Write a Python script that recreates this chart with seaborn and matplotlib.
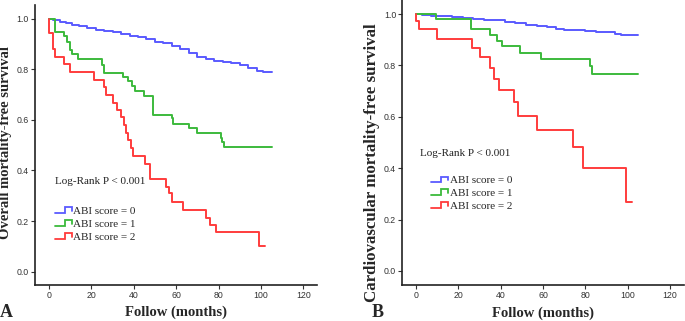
import numpy as np
import pandas as pd
import matplotlib
matplotlib.use("Agg")
import matplotlib.pyplot as plt
import seaborn as sns
from matplotlib.legend_handler import HandlerBase
from matplotlib.lines import Line2D

# -------------------------------
# Data
# -------------------------------
groups = ["ABI score = 0", "ABI score = 1", "ABI score = 2"]
colors = ["#5a5aff", "#3cba3c", "#ff3c3c"]

# Panel A - overall mortality-free survival
a_time_0 = [0, 2, 5, 8, 11, 14, 18, 22, 26, 30, 34, 38, 42, 46, 50, 54, 58, 62,
            66, 70, 74, 78, 82, 86, 90, 94, 98, 101]
a_surv_0 = [1.0, 0.993, 0.987, 0.982, 0.977, 0.971, 0.962, 0.955, 0.952, 0.947,
            0.938, 0.932, 0.928, 0.918, 0.907, 0.902, 0.893, 0.882, 0.866, 0.847,
            0.840, 0.834, 0.829, 0.825, 0.817, 0.806, 0.793, 0.790]
a_end_0 = 105

a_time_1 = [0, 2.8, 7.1, 8.6, 9.7, 10.8, 13.8, 25.0, 25.8, 35.1, 37.1, 39.3, 40.6,
            44.8, 49.2, 57.9, 58.6, 66.0, 70.0, 81.0, 81.8, 82.7]
a_surv_1 = [1.0, 0.949, 0.932, 0.909, 0.878, 0.859, 0.839, 0.817, 0.787, 0.771,
            0.754, 0.734, 0.714, 0.695, 0.619, 0.606, 0.584, 0.567, 0.547, 0.530,
            0.514, 0.494]
a_end_1 = 105

a_time_2 = [0, 0, 1.8, 2.9, 7.0, 10.0, 21.0, 25.8, 27.0, 30.0, 32.0, 34.0, 35.3,
            36.2, 37.3, 38.5, 39.8, 45.3, 47.7, 55.1, 56.8, 58.2, 63.1, 74.1, 75.9,
            78.8, 99.0]
a_surv_2 = [1.0, 0.942, 0.880, 0.850, 0.821, 0.790, 0.759, 0.729, 0.699, 0.668,
            0.639, 0.610, 0.580, 0.550, 0.520, 0.487, 0.458, 0.425, 0.366, 0.336,
            0.310, 0.277, 0.245, 0.213, 0.184, 0.155, 0.103]
a_end_2 = 101.9

# Panel B - cardiovascular mortality-free survival
b_time_0 = [0, 3, 7, 12, 17, 22, 27, 32, 37, 42, 47, 52, 57, 62, 66, 70, 75, 80,
            85, 90, 94, 97]
b_surv_0 = [1.0, 0.997, 0.994, 0.991, 0.988, 0.984, 0.980, 0.977, 0.975, 0.970,
            0.964, 0.959, 0.955, 0.948, 0.942, 0.939, 0.937, 0.935, 0.932, 0.929,
            0.924, 0.918]
b_end_0 = 105

b_time_1 = [0, 9.2, 26.2, 35.0, 38.2, 40.8, 49.2, 59.1, 82.2, 83.1]
b_surv_1 = [1.0, 0.982, 0.940, 0.917, 0.896, 0.875, 0.849, 0.825, 0.797, 0.767]
b_end_1 = 105

b_time_2 = [0, 0, 1.5, 10.0, 26.3, 30.3, 34.9, 36.8, 39.1, 46.3, 48.1, 57.0, 74.2,
            79.1, 99.2]
b_surv_2 = [1.0, 0.972, 0.941, 0.904, 0.869, 0.831, 0.790, 0.749, 0.705, 0.657,
            0.604, 0.549, 0.481, 0.400, 0.267]
b_end_2 = 101.9

x_ticks = [0, 20, 40, 60, 80, 100, 120]
y_ticks = [0.0, 0.2, 0.4, 0.6, 0.8, 1.0]


def km_frame(times, surv, end, label):
    t = list(times) + [end]
    s = list(surv) + [surv[-1]]
    return pd.DataFrame({"time": t, "survival": s, "group": label})


df_a = pd.concat([
    km_frame(a_time_0, a_surv_0, a_end_0, groups[0]),
    km_frame(a_time_1, a_surv_1, a_end_1, groups[1]),
    km_frame(a_time_2, a_surv_2, a_end_2, groups[2]),
], ignore_index=True)

df_b = pd.concat([
    km_frame(b_time_0, b_surv_0, b_end_0, groups[0]),
    km_frame(b_time_1, b_surv_1, b_end_1, groups[1]),
    km_frame(b_time_2, b_surv_2, b_end_2, groups[2]),
], ignore_index=True)


# legend icon shaped like a little step
class StepHandler(HandlerBase):
    def create_artists(self, legend, orig_handle, xdescent, ydescent,
                       width, height, fontsize, trans):
        xs = np.array([0.0, 0.55, 0.55, 0.97, 0.97]) * width - xdescent
        ys = np.array([0.1, 0.1, 0.85, 0.85, 0.35]) * height - ydescent
        line = Line2D(xs, ys, color=orig_handle.get_color(), lw=1.3,
                      solid_joinstyle="miter")
        line.set_transform(trans)
        return [line]


sns.set_style("ticks")
plt.rcParams["font.family"] = ["Liberation Serif", "DejaVu Serif"]

fig = plt.figure(figsize=(6.85, 3.21), dpi=100)
ax_a = fig.add_axes([35 / 685, 36 / 321, 281.7 / 685, 279.6 / 321])
ax_b = fig.add_axes([402.3 / 685, 36 / 321, 282 / 685, 285 / 321])

palette = dict(zip(groups, colors))

panels = [
    (ax_a, df_a, "Overall mortality-free survival", 10.5, (-0.083, 0.508),
     (-0.0526, 1.0526), (-6.6, 126.3), (2.8, 0.358), (2.6, 0.189)),
    (ax_b, df_b, "Cardiovascular mortality-free survival", 12.2, (-0.079, 0.43),
     (-0.0546, 1.0546), (-6.5, 126.8), (1.9, 0.456), (6.9, 0.303)),
]

for ax, df, ylab, ylab_size, ylab_pos, ylim, xlim, lr_pos, leg_pos in panels:
    sns.lineplot(data=df, x="time", y="survival", hue="group", palette=palette,
                 hue_order=groups, estimator=None, sort=False,
                 drawstyle="steps-post", lw=1.4, legend=False, ax=ax)
    ax.set_xlim(*xlim)
    ax.set_ylim(*ylim)
    ax.set_xticks(x_ticks)
    ax.set_yticks(y_ticks)
    ax.set_xticklabels([str(v) for v in x_ticks], family="Liberation Sans",
                       fontsize=6.3, color="#333333")
    ax.set_yticklabels([f"{v:.1f}" for v in y_ticks], family="Liberation Sans",
                       fontsize=6.3, color="#333333")
    ax.tick_params(direction="out", length=3, width=0.8, pad=1.5, color="#333333")
    sns.despine(ax=ax)
    for side in ["left", "bottom"]:
        ax.spines[side].set_linewidth(1.2)
        ax.spines[side].set_color("#222222")

    ax.set_xlabel("Follow (months)", fontsize=10.5, fontweight="bold")
    ax.xaxis.set_label_coords(0.5, -0.075)
    ax.set_ylabel(ylab, fontsize=ylab_size, fontweight="bold")
    ax.yaxis.set_label_coords(*ylab_pos)

    ax.text(lr_pos[0], lr_pos[1], "Log-Rank P < 0.001", fontsize=8,
            va="center", ha="left", color="#222222")

    handles = [Line2D([], [], color=c) for c in colors]
    ax.legend(handles, groups, handler_map={Line2D: StepHandler()},
              loc="center left", bbox_to_anchor=leg_pos,
              bbox_transform=ax.transData, frameon=False, fontsize=8,
              handlelength=1.65, handletextpad=0.05, labelspacing=0.28,
              borderpad=0, borderaxespad=0)

fig.text(0.0, 0.012, "A", fontsize=13, fontweight="bold", va="baseline")
fig.text(372 / 685, 0.014, "B", fontsize=13, fontweight="bold", va="baseline")

plt.savefig("out.png", dpi=100)
plt.close()
